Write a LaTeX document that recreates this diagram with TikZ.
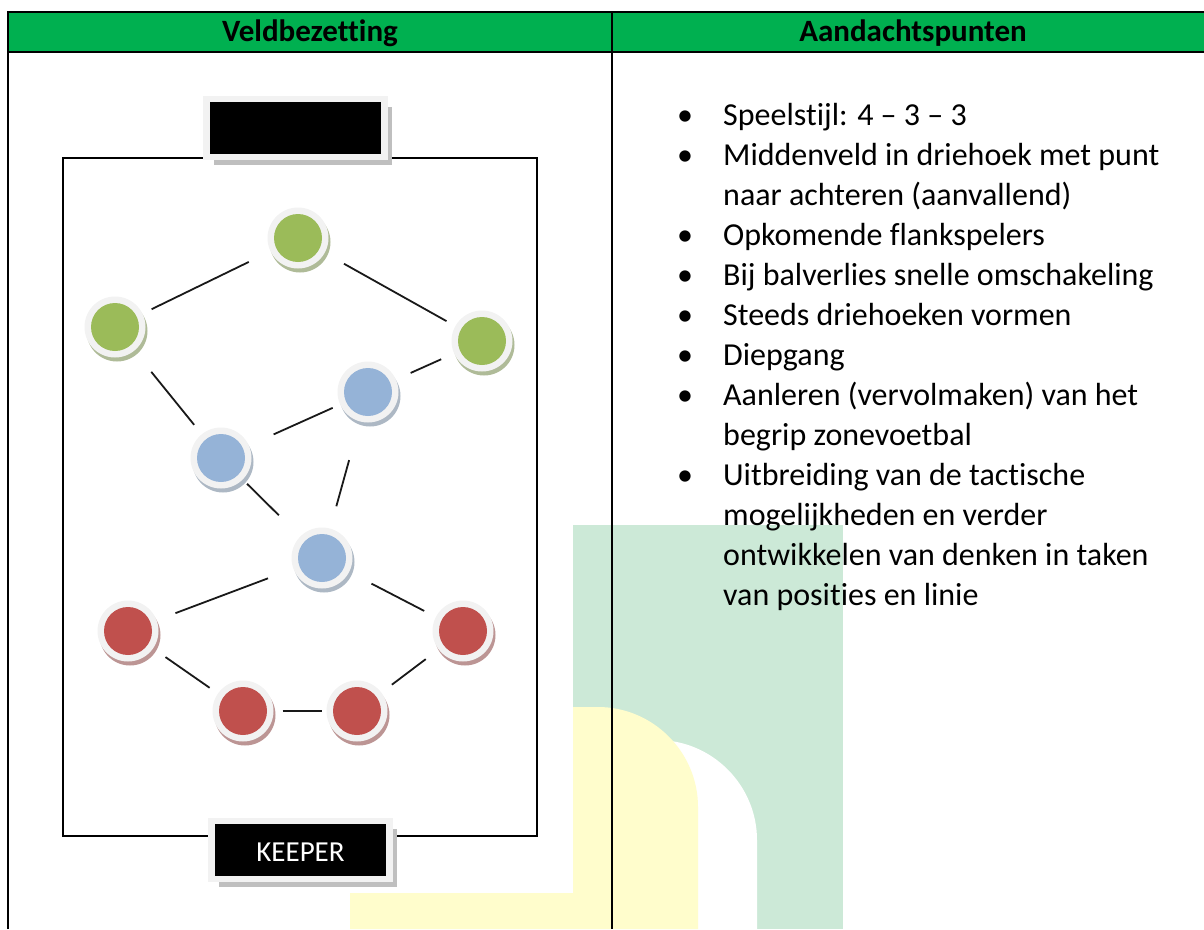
\documentclass[tikz,border=0pt]{standalone}
\usepackage{fontspec}
\setmainfont{Carlito}[Ligatures=NoCommon]
\usepackage{tikz}
\usetikzlibrary{shadows}

\definecolor{kopgroen}{HTML}{00B050}
\definecolor{spitsgroen}{HTML}{9BBB59}
\definecolor{middenblauw}{HTML}{95B3D7}
\definecolor{verdedigrood}{HTML}{C0504D}
\definecolor{ring}{HTML}{F2F2F2}
\definecolor{lichtgroen}{HTML}{CCE9D7}
\definecolor{lichtgeel}{HTML}{FFFDCC}

\newcommand{\bol}{\makebox[46pt][l]{\textbullet}}

\begin{document}
\begin{tikzpicture}[x=1pt,y=-1pt,
	speler/.style={circle,inner sep=0pt,minimum size=61pt,fill=ring,
		drop shadow={shadow xshift=2pt,shadow yshift=-4pt,fill=#1!50!gray!70,opacity=1},
		path picture={\fill[#1] (path picture bounding box.center) circle (24pt);}},
	doel/.style={rectangle,fill=black,draw=ring,line width=6.5pt,
		minimum width=178pt,minimum height=58pt,text=white,
		drop shadow={shadow xshift=7pt,shadow yshift=-8pt,fill=black!25,opacity=1},
		font=\fontsize{29}{30}\selectfont},
	lijn/.style={line width=1.8pt,black!90}]
\useasboundingbox (0,0) rectangle (1204,929);
% achtergrond
\fill[lichtgroen] (573,525) rectangle (843,929);
\fill[white] (620,929) -- (620,740) -- (657,740) .. controls (712,740) and (757,785) .. (757,840) -- (757,929) -- cycle;
\fill[lichtgeel] (350,929) -- (350,893) -- (573,893) -- (573,707) -- (598,707) .. controls (653,707) and (698,752) .. (698,807) -- (698,929) -- cycle;
% tabel
\fill[kopgroen] (8,12) rectangle (1204,52);
\draw[line width=2pt] (8,929) -- (8,12) -- (1204,12);
\draw[line width=2pt] (8,52) -- (1204,52);
\draw[line width=2pt] (612,12) -- (612,929);
\node[font=\bfseries\fontsize{31}{36}\selectfont] (veld) at (310,33) {Veldbezetting};
\node[font=\bfseries\fontsize{31}{36}\selectfont] (aandacht) at (913,33) {Aandachtspunten};
% veld
\draw[line width=1.5pt] (63,158) rectangle (537,836);
\node[speler=spitsgroen] (sp) at (298,238) {};
\node[speler=spitsgroen] (lb) at (115,327) {};
\node[speler=spitsgroen] (rb) at (482,341) {};
\node[speler=middenblauw] (rm) at (368,392) {};
\node[speler=middenblauw] (lm) at (221,458) {};
\node[speler=middenblauw] (vm) at (322,558) {};
\node[speler=verdedigrood] (lv) at (128,631) {};
\node[speler=verdedigrood] (rv) at (463,631) {};
\node[speler=verdedigrood] (lcv) at (243,711) {};
\node[speler=verdedigrood] (rcv) at (357,711) {};
\foreach \a/\b/\s/\t in {lb/sp/10/24,sp/rb/22/10,lb/lm/27/12,lm/rm/27/8,rm/rb/16/14,rm/vm/40/23,
	lm/vm/6/30,lv/vm/20/27,vm/rv/25/13,lv/lcv/15/10,lcv/rcv/9/4,rcv/rv/13/16}
	\draw[lijn,shorten <=\s pt,shorten >=\t pt] (\a) -- (\b);
\node[doel] (doel) at (295.5,128) {};
\node[doel,text depth=0pt] (keeper) at (300.5,850) {\raisebox{-4pt}{KEEPER}};
% aandachtspunten
\node[anchor=north west,inner sep=0pt,font=\fontsize{32}{40}\selectfont] (punten) at (677,97) {%
\begin{tabular}{@{}l@{}l@{}}
\bol & Speelstijl: 4 – 3 – 3\\
\bol & Middenveld in driehoek met punt\\
 & naar achteren (aanvallend)\\
\bol & Opkomende flankspelers\\
\bol & Bij balverlies snelle omschakeling\\
\bol & Steeds driehoeken vormen\\
\bol & Diepgang\\
\bol & Aanleren (vervolmaken) van het\\
 & begrip zonevoetbal\\
\bol & Uitbreiding van de tactische\\
 & mogelijkheden en verder\\
 & ontwikkelen van denken in taken\\
 & van posities en linie
\end{tabular}};
\end{tikzpicture}
\end{document}
